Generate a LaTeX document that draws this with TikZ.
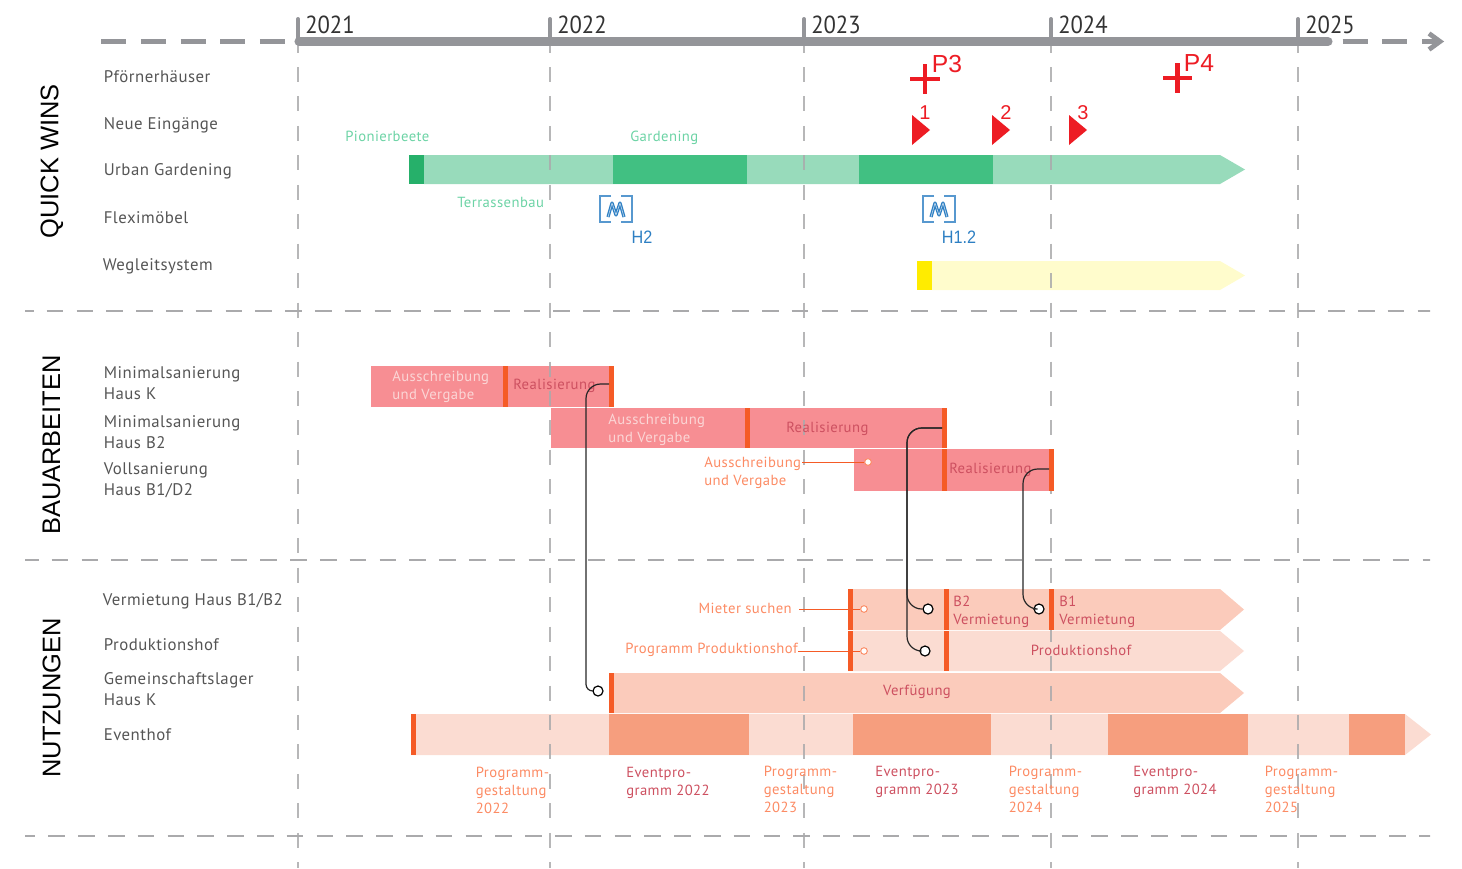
\documentclass[tikz,border=0pt]{standalone}
\usepackage{fontspec}
\setmainfont{PT Sans}[LetterSpace=3]
\newfontfamily\yearfont{PT Sans}
\newfontfamily\arialfont{Liberation Sans}
\usepackage{xcolor}
\definecolor{barGreen}{RGB}{65,192,130}
\definecolor{barGreenLight}{RGB}{152,219,187}
\definecolor{markGreen}{RGB}{38,176,106}
\definecolor{txtGreen}{RGB}{108,211,165}
\definecolor{barYellow}{RGB}{255,236,0}
\definecolor{barYellowLight}{RGB}{255,252,204}
\definecolor{barPink}{RGB}{247,142,147}
\definecolor{barOrange}{RGB}{245,91,38}
\definecolor{barPeach}{RGB}{251,203,187}
\definecolor{barPeachLight}{RGB}{251,220,210}
\definecolor{barPeachDark}{RGB}{246,158,126}
\definecolor{txtOrange}{RGB}{252,139,100}
\definecolor{txtDarkRed}{RGB}{205,80,96}
\definecolor{txtPale}{RGB}{251,214,214}
\definecolor{gridGray}{RGB}{170,170,172}
\definecolor{axisGray}{RGB}{148,149,153}
\definecolor{markRed}{RGB}{237,28,36}
\definecolor{iconBlue}{RGB}{45,127,195}
\definecolor{rowText}{RGB}{85,85,85}
\tikzset{
  rowlabel/.style={anchor=west,inner sep=0pt,align=left,yshift=-1pt,text=rowText,font=\fontsize{12.6}{15.8}\selectfont},
  barlabel/.style={inner sep=0pt,align=left,yshift=-1pt,font=\fontsize{11}{13.5}\selectfont},
  grouplabel/.style={inner sep=0pt,rotate=90,font=\arialfont\fontsize{19.1}{20}\selectfont},
  yearlabel/.style={anchor=west,inner sep=0pt,xscale=0.92,text=black!80,font=\yearfont\fontsize{18.5}{20}\selectfont},
  redlabel/.style={inner sep=0pt,text=markRed,font=\arialfont\fontsize{15}{16}\selectfont},
  bluelabel/.style={inner sep=0pt,xscale=0.9,text=iconBlue,font=\arialfont\fontsize{13.5}{15}\selectfont},
  gridline/.style={gridGray,line width=1.1pt,dash pattern=on 11.25pt off 10.84pt},
  rowline/.style={gridGray,line width=0.9pt,dash pattern=on 12.5pt off 9.85pt},
  axisdash/.style={axisGray,line width=3.75pt,dash pattern=on 18.75pt off 11pt},
  linkdot/.style={circle,draw=black,fill=white,line width=0.9pt,minimum size=7.5pt,inner sep=0pt},
  orangedot/.style={circle,draw=txtOrange,fill=white,line width=0.7pt,minimum size=5pt,inner sep=0pt},
  linkline/.style={line width=0.9pt,draw=black!85}
}
% bar with arrow head: y top, y bottom, x start, x shaft end, x tip, colour
\newcommand{\arrowbar}[6]{\fill[#6] (#3,#1) -- (#4,#1) -- (#5,{(#1+#2)/2}) -- (#4,#2) -- (#3,#2) -- cycle;}
\newcommand{\plainbar}[5]{\fill[#5] (#1,#3) rectangle (#2,#4);}
% hall icon
\newcommand{\hallicon}[2]{
  \draw[iconBlue!80,line width=1pt] (#1-5,#2-13) -- (#1-16,#2-13) -- (#1-16,#2+13) -- (#1-5,#2+13);
  \draw[iconBlue!80,line width=1pt] (#1+5,#2-13) -- (#1+16,#2-13) -- (#1+16,#2+13) -- (#1+5,#2+13);
  \draw[iconBlue,line width=2.4pt,line join=round] (#1-8,#2+8) -- (#1-4,#2-6) -- (#1,#2+6) -- (#1+4,#2-6) -- (#1+8,#2+8);
  \draw[iconBlue!35,line width=0.5pt,line join=round] (#1-8,#2+8) -- (#1-4,#2-6) -- (#1,#2+6) -- (#1+4,#2-6) -- (#1+8,#2+8);
}
\begin{document}
\begin{tikzpicture}[x=0.75pt,y=0.75pt,yscale=-1,xscale=1]
  \useasboundingbox (0,0) rectangle (1462,868);

  %Bars: Urban Gardening
  \arrowbar{155}{184}{424}{1220}{1245}{barGreenLight}
  \plainbar{409}{424}{155}{184}{markGreen}
  \plainbar{613}{747}{155}{184}{barGreen}
  \plainbar{859}{993}{155}{184}{barGreen}
  %Bars: Wegleitsystem
  \arrowbar{261}{290}{932}{1220}{1245}{barYellowLight}
  \plainbar{917}{932}{261}{290}{barYellow}

  %Bars: Bauarbeiten
  \plainbar{371}{612}{366}{407}{barPink}
  \plainbar{551}{945}{408}{448}{barPink}
  \plainbar{854}{1052}{449}{491}{barPink}

  %Bars: Nutzungen
  \arrowbar{589}{630}{848}{1220}{1244}{barPeach}
  \arrowbar{631}{671}{848}{1220}{1244}{barPeachLight}
  \arrowbar{673}{713}{609}{1220}{1244}{barPeach}
  \arrowbar{714}{755}{411}{1405}{1431}{barPeachLight}
  \foreach \xa/\xb in {609/749,853/991,1108/1248,1349/1405}
    \plainbar{\xa}{\xb}{714}{755}{barPeachDark};

  %Grid lines
  \foreach \xa in {298,550,804,1051,1298}{
    \draw[gridline,opacity=0.85] (\xa,37.55) -- (\xa,868);
    \draw[axisGray,line width=3pt,line cap=round] (\xa,19) -- (\xa,42);
  }
  \foreach \ya/\xa in {311/16.9,560/21.9,836/18.5}{
    \begin{scope}
      \clip (25,\ya-2) rectangle (1430,\ya+2);
      \draw[rowline] (\xa,\ya) -- (1440,\ya);
    \end{scope}
  }

  %Bar marks
  \foreach \xa/\ya/\yb in {503/366/407,609/366/407,745/408/448,942/408/448,942/449/491,1049/449/491}
    \plainbar{\xa}{\xa+5}{\ya}{\yb}{barOrange};
  \foreach \xa/\ya/\yb in {848/589/630,944/589/630,1049/589/630,848/631/671,944/631/671,609/673/713,411/714/755}
    \plainbar{\xa}{\xa+5}{\ya}{\yb}{barOrange};

  %Time axis
  \draw[axisdash] (101.3,41.5) -- (290,41.5);
  \draw[axisGray,line width=6.8pt,line cap=round] (299,41.5) -- (1328,41.5);
  \draw[axisdash] (1342.7,41.5) -- (1438,41.5);
  \draw[axisGray,line width=3.6pt] (1429,33.5) -- (1440,41.5) -- (1429,49.5);

  % Text Node
  \foreach \xa/\yr in {298/2021,550/2022,804/2023,1051/2024,1298/2025}
    \draw (\xa+7,25) node [yearlabel] (year\yr) {\yr};

  % Text Node
  \draw (52,161.5) node [grouplabel] (quickwins) {QUICK WINS};
  \draw (51.5,445) node [grouplabel] (bauarbeiten) {BAUARBEITEN};
  \draw (51.5,698) node [grouplabel] (nutzungen) {NUTZUNGEN};

  % Text Node
  \draw (103.5,75) node [rowlabel] (pfoertner) {Pförnerhäuser};
  \draw (103.5,124) node [rowlabel] (eingaenge) {Neue Eingänge};
  \draw (103.5,170) node [rowlabel] (gardening) {Urban Gardening};
  \draw (103.5,216) node [rowlabel] (fleximoebel) {Fleximöbel};
  \draw (102.5,265) node [rowlabel] (wegleit) {Wegleitsystem};
  \draw (103.5,382) node [rowlabel] (hausk) {Minimalsanierung\\Haus K};
  \draw (103.5,431) node [rowlabel] (hausbz) {Minimalsanierung\\Haus B2};
  \draw (103.5,479) node [rowlabel] (hausbe) {Vollsanierung\\Haus B1/D2};
  \draw (102.5,600) node [rowlabel] (vermietung) {Vermietung Haus B1/B2};
  \draw (103.5,643) node [rowlabel] (prodhof) {Produktionshof};
  \draw (103.5,688) node [rowlabel] (lager) {Gemeinschaftslager\\Haus K};
  \draw (103.5,733) node [rowlabel] (eventhof) {Eventhof};

  % Text Node
  \draw (345,135) node [barlabel,anchor=west,text=txtGreen] (pionier) {Pionierbeete};
  \draw (630,136) node [barlabel,anchor=west,text=txtGreen] (gardeninglabel) {Gardening};
  \draw (457,201) node [barlabel,anchor=west,text=txtGreen] (terrassen) {Terrassenbau};

  % Text Node
  \draw (392,385) node [barlabel,anchor=west,text=txtPale] (ausa) {Ausschreibung\\und Vergabe};
  \draw (513,385) node [barlabel,anchor=west,text=txtDarkRed] (reala) {Realisierung};
  \draw (608,428) node [barlabel,anchor=west,text=txtPale] (ausb) {Ausschreibung\\und Vergabe};
  \draw (786,428) node [barlabel,anchor=west,text=txtDarkRed] (realb) {Realisierung};
  \draw (704,471) node [barlabel,anchor=west,text=txtOrange] (ausc) {Ausschreibung\\und Vergabe};
  \draw (949,469) node [barlabel,anchor=west,text=txtDarkRed] (realc) {Realisierung};

  % Text Node
  \draw (792,607) node [barlabel,anchor=east,text=txtOrange] (mieter) {Mieter suchen};
  \draw (798,649) node [barlabel,anchor=east,text=txtOrange] (programm) {Programm Produktionshof};
  \draw (953,610) node [barlabel,anchor=west,text=txtDarkRed] (vermb) {B2\\Vermietung};
  \draw (1059,610) node [barlabel,anchor=west,text=txtDarkRed] (verma) {B1\\Vermietung};
  \draw (1081,649) node [barlabel,text=txtDarkRed] (prodlabel) {Produktionshof};
  \draw (917,691) node [barlabel,text=txtDarkRed] (verfuegung) {Verfügung};

  % Text Node
  \draw (475.5,789) node [barlabel,anchor=west,text=txtOrange] (proga) {Programm-\\gestaltung\\2022};
  \draw (763.5,788) node [barlabel,anchor=west,text=txtOrange] (progb) {Programm-\\gestaltung\\2023};
  \draw (1008.5,788) node [barlabel,anchor=west,text=txtOrange] (progc) {Programm-\\gestaltung\\2024};
  \draw (1264.5,788) node [barlabel,anchor=west,text=txtOrange] (progd) {Programm-\\gestaltung\\2025};
  \draw (626,782) node [barlabel,anchor=west,text=txtDarkRed] (eventa) {Eventpro-\\gramm 2022};
  \draw (875,781) node [barlabel,anchor=west,text=txtDarkRed] (eventb) {Eventpro-\\gramm 2023};
  \draw (1133,781) node [barlabel,anchor=west,text=txtDarkRed] (eventc) {Eventpro-\\gramm 2024};

  %Plus marks
  \draw[markRed,line width=3.6pt] (910,79) -- (940,79) (925,64) -- (925,94);
  \draw[markRed,line width=3.6pt] (1163,78) -- (1192,78) (1177.5,63) -- (1177.5,93);
  \draw (947,64) node [redlabel,font=\arialfont\fontsize{18.5}{20}\selectfont] (pthree) {P3};
  \draw (1199,63) node [redlabel,font=\arialfont\fontsize{18.5}{20}\selectfont] (pfour) {P4};

  %Triangle marks
  \foreach \xa in {912,992,1069}
    \fill[markRed] (\xa,115) -- (\xa+18,130) -- (\xa,145) -- cycle;
  \draw (925,113) node [redlabel] (eins) {1};
  \draw (1006,113) node [redlabel] (zwei) {2};
  \draw (1083,113) node [redlabel] (drei) {3};

  %Icons
  \hallicon{616}{209}
  \hallicon{939}{209}
  \draw (642,237) node [bluelabel] (hzwei) {H2};
  \draw (959,237) node [bluelabel] (heinszwei) {H1.2};

  %Straight Lines
  \coordinate (linkk) at (609,384);
  \coordinate (linkb) at (942,428);
  \coordinate (linkc) at (1049,469);
  \draw (598,691) node [linkdot] (dotk) {};
  \draw (928,609) node [linkdot] (dotv) {};
  \draw (925,651) node [linkdot] (dotp) {};
  \draw (1039,609) node [linkdot] (dots) {};
  \draw[linkline] (linkk) [rounded corners=11pt] -- (586,384) -- (586,640) [rounded corners=5pt] -- (586,691) -- (dotk);
  \draw[linkline] (linkb) [rounded corners=11pt] -- (907,428) -- (907,609) -- (dotv);
  \draw[linkline] (linkb) [rounded corners=11pt] -- (907,428) -- (907,651) -- (dotp);
  \draw[linkline] (linkc) [rounded corners=11pt] -- (1023,469) -- (1023,609) -- (dots);

  %Straight Lines
  \draw (868,462) node [orangedot] (dota) {};
  \draw (864,609) node [orangedot] (dotm) {};
  \draw (864,651) node [orangedot] (dotq) {};
  \draw[barOrange,line width=0.7pt] (802,462) -- (dota);
  \draw[barOrange,line width=0.7pt] (799,609) -- (dotm);
  \draw[barOrange,line width=0.7pt] (programm.east |- dotq) -- (dotq);
\end{tikzpicture}
\end{document}
